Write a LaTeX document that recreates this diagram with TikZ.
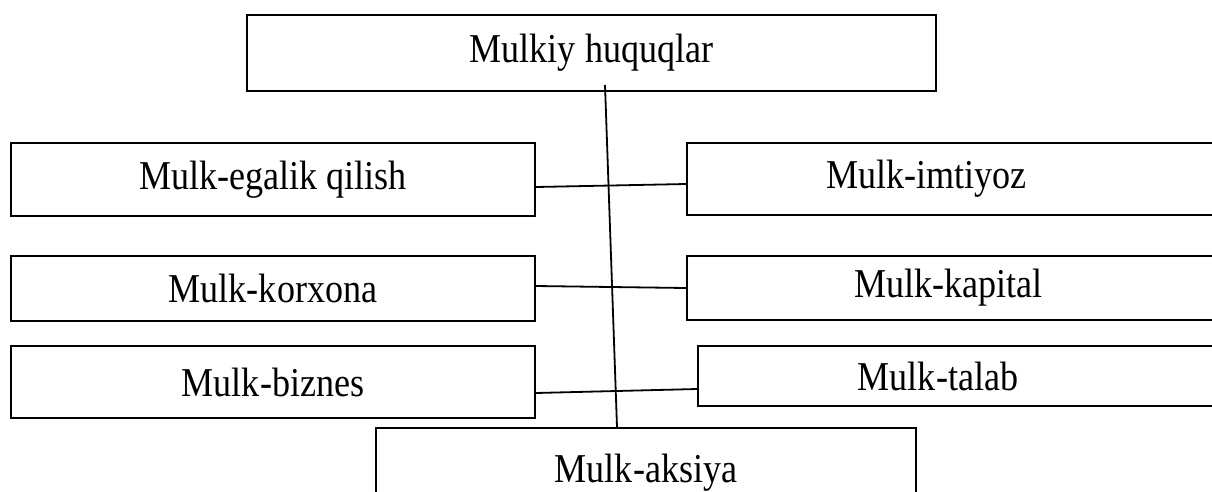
\documentclass[tikz,border=0pt]{standalone}
\usepackage{fontspec}
\usepackage{graphicx}
\setmainfont{Liberation Serif}
\newcommand{\sq}[1]{\scalebox{0.88}[1]{#1}}
\tikzset{
    box/.style =  {rectangle,
                  fill=white,
                  draw=black,
                  text=black,
                  line width=1.8pt,
                  inner sep=0pt,
                  font=\fontsize{41}{44}\selectfont},
    tag/.style =  {font=\fontsize{41}{44}\selectfont,
                  inner sep=0pt},
    link/.style = {draw=black,
                  line width=1.8pt}}

\begin{document}
\begin{tikzpicture}[x=1pt,y=-1pt]
    \useasboundingbox (0,0) rectangle (1212,491);
    \clip (0,0) rectangle (1212,491);
    % top and bottom
    \node[box, minimum width=689, minimum height=76]  (huquq)  at (591.5,53)  {\sq{Mulkiy huquqlar}};
    \node[box, minimum width=540, minimum height=90]  (aksiya) at (646,473)   {\sq{Mulk-aksiya}};
    % left column
    \node[box, minimum width=524, minimum height=73]  (egalik)  at (273,179.5) {\sq{Mulk-egalik qilish}};
    \node[box, minimum width=524, minimum height=65]  (korxona) at (273,288.5) {\sq{Mulk-korxona}};
    \node[box, minimum width=524, minimum height=72]  (biznes)  at (273,382)   {\sq{Mulk-biznes}};
    % right column, runs past the edge
    \node[box, minimum width=553, minimum height=72,
          label={[tag,xshift=-37pt]center:\sq{Mulk-imtiyoz}}] (imtiyoz) at (963.5,179) {};
    \node[box, minimum width=553, minimum height=64,
          label={[tag,xshift=-15pt]center:\sq{Mulk-kapital}}] (kapital) at (963.5,288) {};
    \node[box, minimum width=542, minimum height=60,
          label={[tag,xshift=-31pt]center:\sq{Mulk-talab}}]   (talab)   at (969,376)   {};
    % connectors
    \coordinate (hubtop) at (605,85);
    \draw[link] (hubtop) -- ([xshift=-29pt]aksiya.north);
    \draw[link] ([yshift=-7.5pt]egalik.east)  -- ([yshift=-5pt]imtiyoz.west);
    \draw[link] ([yshift=2.5pt]korxona.east)  -- (kapital.west);
    \draw[link] ([yshift=-11pt]biznes.east)   -- ([yshift=-13pt]talab.west);
\end{tikzpicture}
\end{document}
